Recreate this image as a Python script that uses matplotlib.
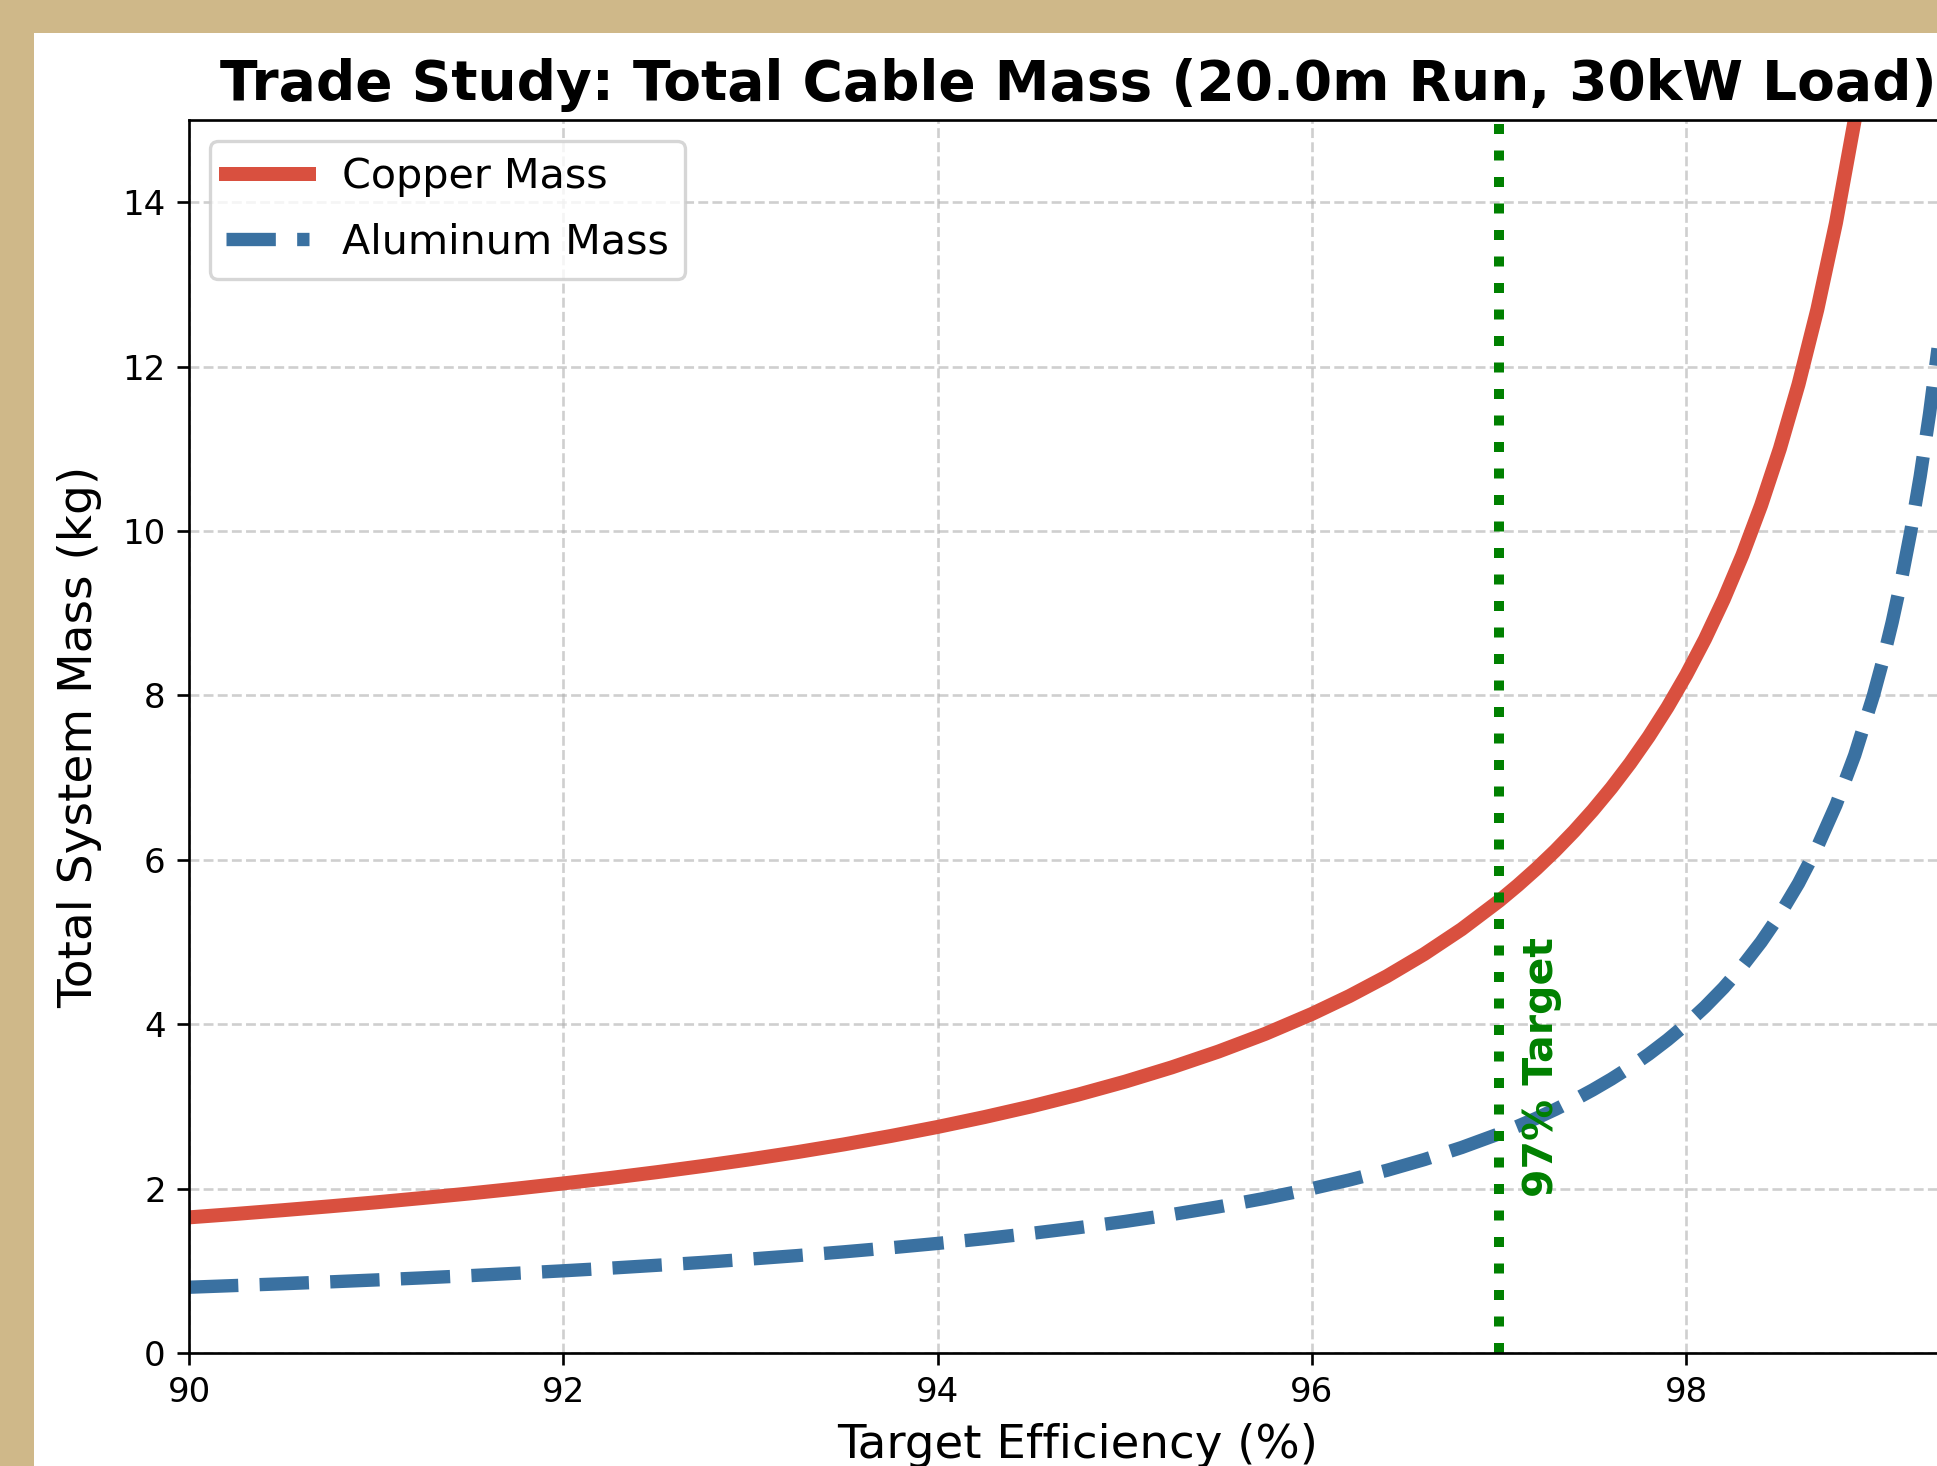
import matplotlib
matplotlib.use("Agg")
import matplotlib.pyplot as plt
from matplotlib.patches import Rectangle

# ---- data ----
efficiency = [90.0, 90.25, 90.5, 90.75, 91.0, 91.25, 91.5, 91.75, 92.0, 92.25,
              92.5, 92.75, 93.0, 93.25, 93.5, 93.75, 94.0, 94.25, 94.5, 94.75,
              95.0, 95.25, 95.5, 95.75, 96.0, 96.2, 96.4, 96.6, 96.8, 97.0,
              97.1, 97.2, 97.3, 97.4, 97.5, 97.6, 97.7, 97.8, 97.9, 98.0,
              98.1, 98.2, 98.3, 98.4, 98.5, 98.6, 98.7, 98.8, 98.9, 99.0,
              99.05, 99.1, 99.15, 99.2, 99.25, 99.3, 99.35, 99.4, 99.45, 99.5]
copper_mass = [1.650, 1.692, 1.737, 1.784, 1.833, 1.886, 1.941, 2.000, 2.063, 2.129,
               2.200, 2.276, 2.357, 2.444, 2.538, 2.640, 2.750, 2.870, 3.000, 3.143,
               3.300, 3.474, 3.667, 3.882, 4.125, 4.342, 4.583, 4.853, 5.156, 5.500,
               5.690, 5.893, 6.111, 6.346, 6.600, 6.875, 7.174, 7.500, 7.857, 8.250,
               8.684, 9.167, 9.706, 10.313, 11.000, 11.786, 12.692, 13.750, 15.000, 16.500,
               17.368, 18.333, 19.412, 20.625, 22.000, 23.571, 25.385, 27.500, 30.000, 33.000]
aluminum_mass = [0.800, 0.821, 0.842, 0.865, 0.889, 0.914, 0.941, 0.970, 1.000, 1.032,
                 1.067, 1.103, 1.143, 1.185, 1.231, 1.280, 1.333, 1.391, 1.455, 1.524,
                 1.600, 1.684, 1.778, 1.882, 2.000, 2.105, 2.222, 2.353, 2.500, 2.667,
                 2.759, 2.857, 2.963, 3.077, 3.200, 3.333, 3.478, 3.636, 3.810, 4.000,
                 4.211, 4.444, 4.706, 5.000, 5.333, 5.714, 6.154, 6.667, 7.273, 8.000,
                 8.421, 8.889, 9.412, 10.000, 10.667, 11.429, 12.308, 13.333, 14.545, 16.000]
target_eff = 97
target_label = "97% Target"
title = "Trade Study: Total Cable Mass (20.0m Run, 30kW Load)"
xlabel = "Target Efficiency (%)"
ylabel = "Total System Mass (kg)"

W, H, DPI = 1937, 1466, 240
fig = plt.figure(figsize=(W / DPI, H / DPI), dpi=DPI, facecolor="#CFB889")
fig.add_artist(Rectangle((34 / W, 0), 1.0, (H - 33) / H, transform=fig.transFigure,
                         facecolor="white", edgecolor="none", zorder=-5))

ax = fig.add_axes([189 / W, (H - 1353) / H, (1967 - 189) / W, (1353 - 120) / H])
ax.plot(efficiency, copper_mass, color="#d9503f", lw=4.2, label="Copper Mass")
ax.plot(efficiency, aluminum_mass, color="#3a71a1", lw=4, ls="--", label="Aluminum Mass")
ax.axvline(target_eff, color="green", ls=":", lw=3)
ax.text(target_eff + 0.12, 1.9, target_label, rotation=90, color="green",
        fontweight="bold", fontsize=12.3, ha="left", va="bottom")

ax.set_xlim(90, 99.5)
ax.set_ylim(0, 15)
ax.set_title(title, fontsize=16.5, fontweight="bold")
ax.set_xlabel(xlabel, fontsize=14)
ax.set_ylabel(ylabel, fontsize=14.1, labelpad=6)
ax.tick_params(labelsize=10.2)
ax.grid(True, linestyle="--", alpha=0.6)
ax.legend(loc="upper left", fontsize=12.4, labelspacing=0.62)

fig.savefig("out.png", dpi=DPI, facecolor=fig.get_facecolor())
